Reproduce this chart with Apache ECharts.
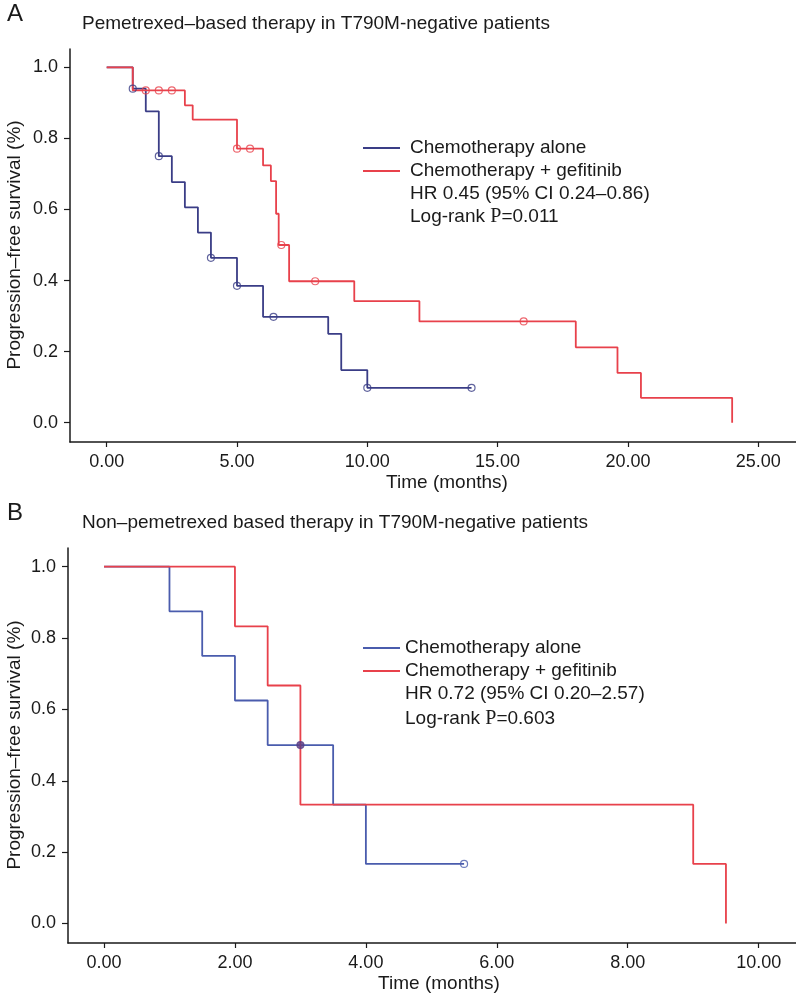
<!DOCTYPE html>
<html>
<head>
<meta charset="utf-8">
<script src="https://cdn.jsdelivr.net/npm/echarts@6/dist/echarts.min.js"></script>
<style>
html,body{margin:0;padding:0;background:#fff;}
#chart{width:796px;height:996px;}
</style>
</head>
<body>
<div id="chart"></div>
<script>
// ---------- Panel A data (Pemetrexed-based therapy) ----------
const aBlueTimes = [0, 1.0, 1.5, 2.0, 2.5, 3.0, 3.5, 4.0, 5.0, 6.0, 8.5, 9.0, 10.0, 14.0];
const aBlueSurv  = [1.0, 0.94, 0.876, 0.75, 0.677, 0.606, 0.535, 0.464, 0.385, 0.298, 0.25, 0.148, 0.098, 0.098];
const aBlueCensorTimes = [1.0, 2.0, 4.0, 5.0, 6.4, 10.0, 14.0];
const aBlueCensorSurv  = [0.94, 0.75, 0.464, 0.385, 0.298, 0.098, 0.098];

const aRedTimes = [0, 1.0, 3.0, 3.3, 5.0, 6.0, 6.3, 6.5, 6.6, 7.0, 9.5, 12.0, 18.0, 19.6, 20.5, 24.0];
const aRedSurv  = [1.0, 0.935, 0.893, 0.853, 0.771, 0.724, 0.68, 0.588, 0.5, 0.398, 0.342, 0.285, 0.212, 0.14, 0.07, 0.0];
const aRedCensorTimes = [1.5, 2.0, 2.5, 5.0, 5.5, 6.7, 8.0, 16.0];
const aRedCensorSurv  = [0.935, 0.935, 0.935, 0.771, 0.771, 0.5, 0.398, 0.285];

const aXTicks = [0, 5, 10, 15, 20, 25];

// ---------- Panel B data (Non-pemetrexed based therapy) ----------
const bBlueTimes = [0, 1.0, 1.5, 2.0, 2.5, 3.5, 4.0, 5.5];
const bBlueSurv  = [1.0, 0.875, 0.75, 0.625, 0.5, 0.333, 0.167, 0.167];
const bBlueCensorTimes = [3.0, 5.5];
const bBlueCensorSurv  = [0.5, 0.167];
const bBlueCensorFilled = [true, false];

const bRedTimes = [0, 2.0, 2.5, 3.0, 9.0, 9.5];
const bRedSurv  = [1.0, 0.833, 0.667, 0.333, 0.167, 0.0];

const bXTicks = [0, 2, 4, 6, 8, 10];
const yTicks = [0, 0.2, 0.4, 0.6, 0.8, 1.0];

const seriesNames = ['Chemotherapy alone', 'Chemotherapy + gefitinib'];
const panelTitles = ['Pemetrexed\u2013based therapy in T790M-negative patients',
                     'Non\u2013pemetrexed based therapy in T790M-negative patients'];
const statsA = ['HR 0.45 (95% CI 0.24\u20130.86)', '0.011'];
const statsB = ['HR 0.72 (95% CI 0.20\u20132.57)', '0.603'];

// ---------- styling ----------
const RED = '#e8414b';
const BLUE_A = '#3a3d86';
const BLUE_B = '#4a5cad';
const PURPLE = '#5a3f86';
const INK = '#1a1a1a';
const FONT = '"Liberation Sans", Arial, Helvetica, sans-serif';

const zip = (xs, ys) => xs.map((x, i) => [x, ys[i]]);

function xAxis(gridIndex, min, max, ticks) {
  return {
    type: 'value', gridIndex, min, max,
    axisLine: {show: true, onZero: false, lineStyle: {color: INK, width: 1.5}},
    axisTick: {show: true, length: 5, lineStyle: {color: INK, width: 1.2}, customValues: ticks},
    axisLabel: {color: INK, fontSize: 18, fontFamily: FONT, margin: 11,
                customValues: ticks, formatter: v => Number(v).toFixed(2)},
    splitLine: {show: false}
  };
}
function yAxis(gridIndex, min, max) {
  return {
    type: 'value', gridIndex, min, max,
    axisLine: {show: true, onZero: false, lineStyle: {color: INK, width: 1.5}},
    axisTick: {show: true, length: 6, lineStyle: {color: INK, width: 1.2}, customValues: yTicks},
    axisLabel: {color: INK, fontSize: 18, fontFamily: FONT, margin: 12,
                customValues: yTicks, formatter: v => Number(v).toFixed(1)},
    splitLine: {show: false}
  };
}
function kmLine(name, idx, data, color, z) {
  return {
    name, type: 'line', step: 'end', xAxisIndex: idx, yAxisIndex: idx,
    data, showSymbol: false, symbol: 'none', z,
    lineStyle: {color, width: 1.8}, itemStyle: {color},
    animation: false, silent: true
  };
}
function censor(name, idx, data, color, z) {
  return {
    name, type: 'scatter', xAxisIndex: idx, yAxisIndex: idx, data,
    symbol: 'circle', symbolSize: 7, z,
    itemStyle: {color: 'rgba(0,0,0,0)', borderColor: color, borderWidth: 1.2},
    animation: false, silent: true
  };
}
function legend(top, left, blue, textPad) {
  return {
    orient: 'vertical', left, top, padding: 0, itemGap: 0,
    icon: 'rect', itemWidth: 37, itemHeight: 2,
    selectedMode: false,
    textStyle: {color: INK, fontSize: 19, fontFamily: FONT, lineHeight: 23, padding: [0, 0, 0, textPad]},
    data: [
      {name: seriesNames[0], itemStyle: {color: blue}},
      {name: seriesNames[1], itemStyle: {color: RED}}
    ]
  };
}
function txt(x, y, text, size, extra) {
  return Object.assign({
    type: 'text', x, y, silent: true,
    style: Object.assign({text, fill: INK, fontSize: size, fontFamily: FONT,
                          textAlign: 'left', textVerticalAlign: 'middle'}, (extra && extra.style) || {})
  }, extra && extra.rotation !== undefined ? {rotation: extra.rotation} : {});
}
function logRank(x, y, p) {
  return {
    type: 'text', x, y, silent: true,
    style: {
      text: 'Log-rank {p|P}=' + p,
      fill: INK, fontSize: 19, fontFamily: FONT, textAlign: 'left', textVerticalAlign: 'middle',
      rich: {p: {fontFamily: '"Liberation Serif", "Times New Roman", serif', fontSize: 20, fill: INK}}
    }
  };
}

const bCensorData = zip(bBlueCensorTimes, bBlueCensorSurv).map((d, i) =>
  bBlueCensorFilled[i] ? {value: d, itemStyle: {color: PURPLE, borderColor: PURPLE}} : {value: d});

const chart = echarts.init(document.getElementById('chart'), null, {renderer: 'canvas'});
chart.setOption({
  backgroundColor: '#fff',
  animation: false,
  grid: [
    {left: 70, top: 49, right: 0, height: 393},
    {left: 68, top: 548, right: 0, height: 395}
  ],
  xAxis: [
    xAxis(0, -1.408, 26.45, aXTicks),
    xAxis(1, -0.55, 10.57, bXTicks)
  ],
  yAxis: [
    yAxis(0, -0.0543, 1.0515),
    yAxis(1, -0.0546, 1.0524)
  ],
  legend: [
    legend(136.5, 363, BLUE_A, 5),
    legend(636.5, 363, BLUE_B, 0)
  ],
  series: [
    kmLine(seriesNames[0], 0, zip(aBlueTimes, aBlueSurv), BLUE_A, 2),
    kmLine(seriesNames[1], 0, zip(aRedTimes, aRedSurv), RED, 3),
    censor(seriesNames[0], 0, zip(aBlueCensorTimes, aBlueCensorSurv), BLUE_A, 5),
    censor(seriesNames[1], 0, zip(aRedCensorTimes, aRedCensorSurv), RED, 4),
    kmLine(seriesNames[0], 1, zip(bBlueTimes, bBlueSurv), BLUE_B, 2),
    kmLine(seriesNames[1], 1, zip(bRedTimes, bRedSurv), RED, 3),
    censor(seriesNames[0], 1, bCensorData, BLUE_B, 5)
  ],
  graphic: [
    txt(7, 14, 'A', 24),
    txt(82, 24, panelTitles[0], 19),
    txt(15, 245, 'Progression\u2013free survival (%)', 19,
        {rotation: Math.PI / 2, style: {textAlign: 'center'}}),
    txt(447, 483, 'Time (months)', 19, {style: {textAlign: 'center'}}),
    txt(410, 194, statsA[0], 19),
    logRank(410, 217, statsA[1]),

    txt(7, 513, 'B', 24),
    txt(82, 523, panelTitles[1], 19),
    txt(15, 745, 'Progression\u2013free survival (%)', 19,
        {rotation: Math.PI / 2, style: {textAlign: 'center'}}),
    txt(439, 984, 'Time (months)', 19, {style: {textAlign: 'center'}}),
    txt(405, 694, statsB[0], 19),
    logRank(405, 719, statsB[1])
  ]
});
</script>
</body>
</html>
